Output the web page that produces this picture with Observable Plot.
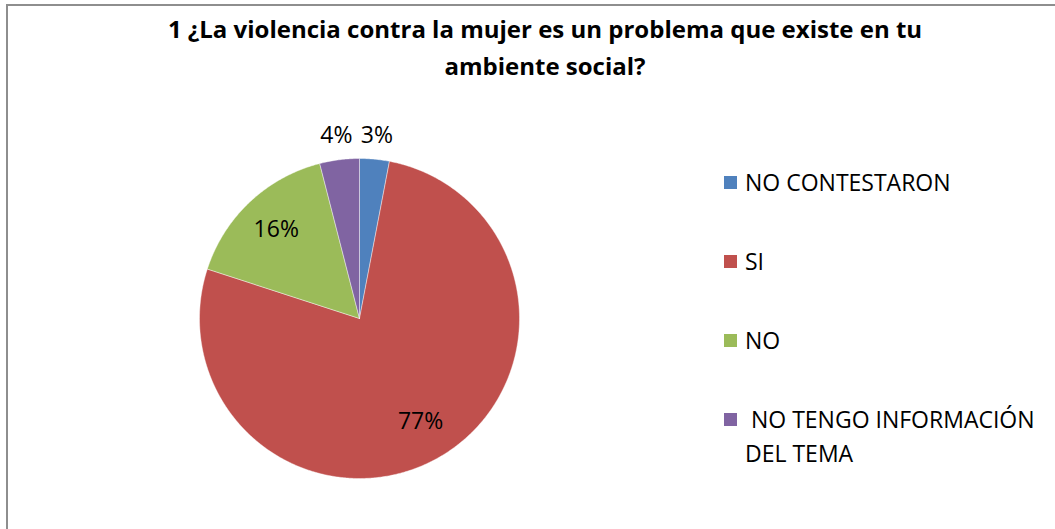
<!DOCTYPE html>
<html>
<head>
<meta charset="utf-8">
<script src="https://cdn.jsdelivr.net/npm/d3@7"></script>
<script src="https://cdn.jsdelivr.net/npm/@observablehq/plot@0.6"></script>
<style>
  html, body { margin: 0; padding: 0; background: #fff; }
  #wrap { position: relative; width: 1055px; height: 529px; overflow: hidden; font-family: "Open Sans", sans-serif; }
  #frame { position: absolute; left: 6px; top: 4px; width: 1100px; height: 600px; border: 2px solid #8e8e8e; box-sizing: border-box; }
  #title { position: absolute; left: 0; width: 1090px; top: 10px; text-align: center; font-weight: bold; font-size: 24px; line-height: 37px; color: #000; }
  #legend { position: absolute; left: 724px; top: 0; font-size: 23px; color: #000; }
  .item { position: absolute; left: 0; white-space: nowrap; }
  .sw { position: absolute; left: 0; width: 13px; height: 13px; }
  .lab { position: absolute; left: 21px; line-height: 34px; }
  #chart { position: absolute; left: 0; top: 0; }
</style>
</head>
<body>
<div id="wrap">
  <div id="frame"></div>
  <div id="chart"></div>
  <div id="title">1 ¿La violencia contra la mujer es un problema que existe en tu<br>ambiente social?</div>
  <div id="legend"></div>
</div>
<script>
// ---- data ----
const categories = ["NO CONTESTARON", "SI", "NO", " NO TENGO INFORMACIÓN DEL TEMA"];
const legendLines = [["NO CONTESTARON"], ["SI"], ["NO"], ["\u00a0NO TENGO INFORMACIÓN", "DEL TEMA"]];
const values = [3, 77, 16, 4];
const labels = ["3%", "77%", "16%", "4%"];
const colors = ["#4F81BD", "#C0504D", "#9BBB59", "#8064A2"];

// label placement (fraction of radius) : outside for small slices
const labelRadius = [1.15, 0.75, 0.76, 1.15];

const total = d3.sum(values);
let acc = 0;
const slices = values.map((v, i) => {
  const a0 = acc / total * 2 * Math.PI;
  acc += v;
  const a1 = acc / total * 2 * Math.PI;
  return {i, a0, a1, mid: (a0 + a1) / 2};
});

// polygon points for each slice (unit circle, angle clockwise from 12 o'clock)
const polys = slices.map(s => {
  const pts = [{x: 0, y: 0}];
  const n = Math.max(2, Math.ceil((s.a1 - s.a0) / (Math.PI / 360)));
  for (let k = 0; k <= n; k++) {
    const a = s.a0 + (s.a1 - s.a0) * k / n;
    pts.push({x: Math.sin(a), y: Math.cos(a)});
  }
  pts.push({x: 0, y: 0});
  return pts;
});

const labelData = slices.map(s => ({
  x: Math.sin(s.mid) * labelRadius[s.i],
  y: Math.cos(s.mid) * labelRadius[s.i],
  text: labels[s.i]
}));

const cx = 359, cy = 318, r = 160;

const plot = Plot.plot({
  width: 1055,
  height: 529,
  margin: 0,
  x: {domain: [-1, 1], range: [cx - r, cx + r], axis: null},
  y: {domain: [-1, 1], range: [cy + r, cy - r], axis: null},
  style: {background: "transparent", overflow: "visible"},
  marks: [
    ...polys.map((p, i) => Plot.line(p, {x: "x", y: "y", fill: colors[i], stroke: "#ffffff", strokeWidth: 0.6, strokeOpacity: 0.7, curve: "linear"})),
    Plot.text(labelData, {x: "x", y: "y", text: "text", fontSize: 23, fill: "#000", fontFamily: "'Open Sans', sans-serif"})
  ]
});
document.getElementById("chart").appendChild(plot);

// legend
const legendY = [183, 262, 341, 420];
const leg = document.getElementById("legend");
categories.forEach((c, i) => {
  const it = document.createElement("div");
  it.className = "item";
  it.style.top = (legendY[i] - 18) + "px";
  const sw = document.createElement("div");
  sw.className = "sw";
  sw.style.background = colors[i];
  sw.style.top = "11px";
  const lab = document.createElement("div");
  lab.className = "lab";
  lab.innerHTML = legendLines[i].join("<br>");
  it.appendChild(sw);
  it.appendChild(lab);
  leg.appendChild(it);
});
</script>
</body>
</html>
